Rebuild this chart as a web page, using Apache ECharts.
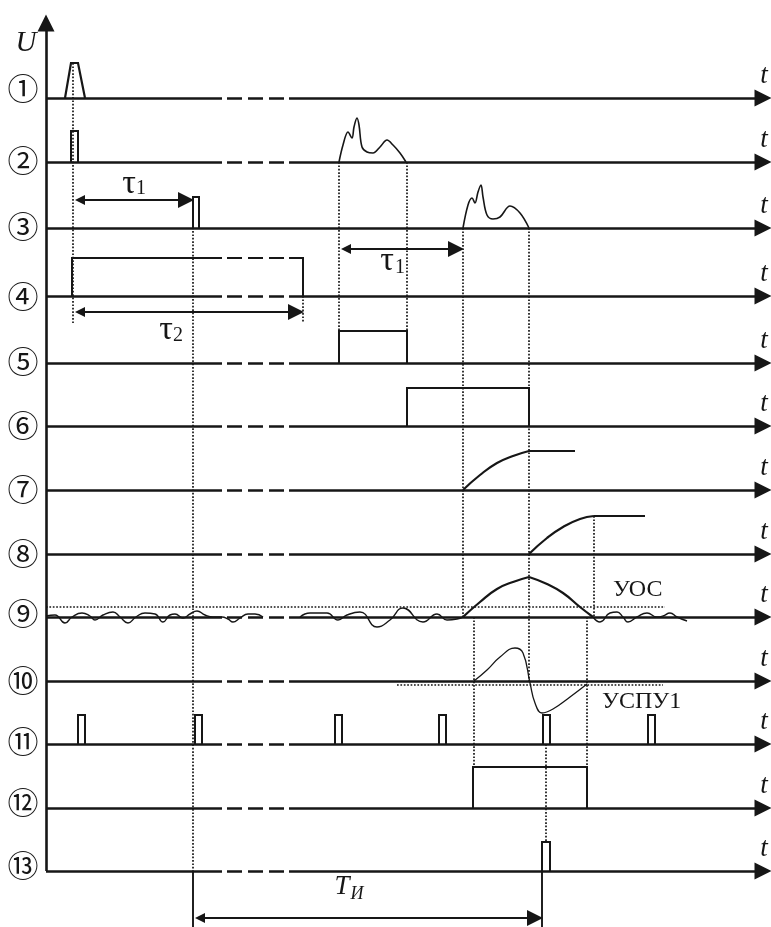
<!DOCTYPE html>
<html><head><meta charset="utf-8">
<script src="https://cdn.jsdelivr.net/npm/echarts@6/dist/echarts.min.js"></script>
<style>html,body{margin:0;padding:0;background:#fff}#c{width:771px;height:927px}</style>
</head><body><div id="c"></div>
<script>
// ================= DATA =================
// row captions (circled numbers)
const ROW_LABELS = ['①','②','③','④','⑤','⑥','⑦','⑧','⑨','⑩','⑪','⑫','⑬'];
// time axis: start, break (dashed part), end
const T_START = 46, T_END = 771, BREAK_FROM = 222, BREAK_TO = 289;
// rows whose time axis shows the dashed break
const DASH_ROWS = [0,1,3,4,5,6,7,8,9,10,11,12];

// signals: [time, level above row baseline]
const trig1  = [[65,0],[71,35],[78,35],[85,0]];
const probe2 = [[71,0],[71,31],[78,31],[78,0]];
const echo2  = [[339,0],[343,17],[348,30],[352,24],[354,35],[357,44],[359,37],[362,15],[367,10],[373,9],[380,15],[387,22],[393,17],[400,9],[406,0]];
const probe3 = [[193,0],[193,31],[199,31],[199,0]];
const echo3  = [[463,0],[468,23],[472,30],[475,25],[478,36],[481,43],[483,31],[487,13],[493,9],[500,11],[510,22],[520,15],[529,0]];
const gate4a = [[72,0],[72,38],[222,38]];
const gate4b = [[227,38],[284,38]];
const gate4c = [[289,38],[303,38],[303,0]];
const gate5  = [[339,0],[339,32],[407,32],[407,0]];
const gate6  = [[407,0],[407,38],[529,38],[529,0]];
const ramp7  = [[463,0],[480,15],[497,27],[513,34],[529,39]];
const hold7  = [[529,39],[575,39]];
const ramp8  = [[529,0],[547,16],[563,27],[580,35],[594,38]];
const hold8  = [[594,38],[645,38]];
const noise9a = [[46,1],[55,2],[65,-6],[72,0],[82,4],[90,1],[95,-3],[103,2],[113,5],[120,0],[128,-6],[136,0],[145,4],[155,3],[163,-5],[170,2],[175,3],[183,-1],[190,3],[197,6],[205,2],[213,0],[222,0],[228,-2],[233,-5],[240,-1],[248,3],[255,3],[263,0]];
const noise9b = [[300,0],[310,4],[327,4],[338,-3],[347,2],[360,5],[377,-10],[390,-3],[403,9],[423,-5],[437,3],[447,-3],[457,-2],[463,0]];
const arch9rise = [[463,0],[480,15],[497,28],[513,35],[529,40]];
const arch9fall = [[529,40],[547,33],[563,24],[580,10],[593,0]];
const noise9c = [[593,0],[600,-5],[610,4],[617,5],[623,0],[628,-5],[637,0],[647,4],[657,0],[663,1],[670,4],[677,0],[687,-4]];
const thr9   = [[46,10],[665,10]];
const resp10 = [[474,0],[487,11],[500,24],[515,33],[523,28],[530,-2],[535,-22],[542,-32],[553,-28],[570,-16],[587,-3]];
const thr10  = [[397,-4],[663,-4]];
const clock11 = [78,195,335,439,543,648];   // clock pulse start times
const CLOCK_W = 7, CLOCK_H = 29;
const gate12 = [[473,0],[473,41],[587,41],[587,0]];
const out13  = [[542,0],[542,29],[550,29],[550,0]];

// dotted projection lines: [time, fromRow, fromLevel, toRow, toLevel]
const VLINES = [[73,0,35,3,-27],[193,2,31,12,0],[303,3,0,3,-27],[339,1,0,4,32],[407,1,0,4,32],
                [463,2,0,8,0],[529,2,0,9,0],[594,7,38,8,0],[474,8,0,11,41],[587,8,0,11,41],[546,10,0,12,29]];
// solid extension lines down to the T_И dimension
const EXT = [[193,12,0,12,-56],[542,12,0,12,-56]];
// dimension arrows: [t1, t2, row, level]
const DIMS = [[73,193,2,28],[73,303,3,-16],[339,463,2,-21],[193,542,12,-47]];

// ================= LAYOUT =================
const ROW_Y = [98,162,228,296,363,426,490,554,617,681,744,808,871];
const LABEL_Y = [88,160,226,296,361,425,489,553,613,680,741,802,865];
const INK = '#161616';
const Y = (r, l) => ROW_Y[r] - l;

const series = [];
function poly(row, pts, width, smooth, extra) {
  series.push(Object.assign({
    type: 'line', data: pts.map(p => [p[0], Y(row, p[1])]),
    showSymbol: false, symbol: 'none', smooth: smooth || false, silent: true,
    lineStyle: { color: INK, width: width, cap: 'butt', join: 'miter' }, z: 5
  }, extra || {}));
}
function ls(width, type) { return { width: width, color: INK, opacity: 1, type: type || 'solid' }; }

// axes lines
const plain = [], arrows = [], dbl = [];
ROW_Y.forEach((y, r) => {
  if (DASH_ROWS.includes(r)) {
    plain.push({ coords: [[T_START, y], [BREAK_FROM, y]], lineStyle: ls(2.6) });
    plain.push({ coords: [[BREAK_FROM + 5, y], [BREAK_TO - 5, y]], lineStyle: ls(2.6, [15, 6]) });
    arrows.push({ coords: [[BREAK_TO, y], [T_END - 8, y]], lineStyle: ls(2.6) });
  } else {
    arrows.push({ coords: [[T_START, y], [T_END - 8, y]], lineStyle: ls(2.6) });
  }
});
// U axis
arrows.push({ coords: [[T_START, ROW_Y[12]], [T_START, 23]], lineStyle: ls(2.6) });

series.push({ type: 'lines', coordinateSystem: 'cartesian2d', polyline: false, silent: true, z: 3,
  symbol: ['none', 'none'], data: plain, lineStyle: ls(2.6) });
series.push({ type: 'lines', coordinateSystem: 'cartesian2d', polyline: false, silent: true, z: 3,
  symbol: ['none', 'triangle'], symbolSize: [13, 17], data: arrows, lineStyle: ls(2.6) });

// dimension arrows
DIMS.forEach(d => {
  const y = Y(d[2], d[3]);
  dbl.push({ coords: [[d[0] + 7, y], [d[1] - 7, y]], lineStyle: ls(1.9) });
});
series.push({ type: 'lines', coordinateSystem: 'cartesian2d', polyline: false, silent: true, z: 4,
  symbol: ['triangle', 'triangle'], symbolSize: [10, 16], data: dbl, lineStyle: ls(1.9) });

// dotted projection lines
series.push({ type: 'lines', coordinateSystem: 'cartesian2d', polyline: false, silent: true, z: 2,
  data: VLINES.map(v => ({ coords: [[v[0], Y(v[1], v[2])], [v[0], Y(v[3], v[4])]] })),
  lineStyle: ls(1.7, [1.7, 1.7]) });
series.push({ type: 'lines', coordinateSystem: 'cartesian2d', polyline: false, silent: true, z: 2,
  data: EXT.map(v => ({ coords: [[v[0], Y(v[1], v[2])], [v[0], Y(v[3], v[4])]] })),
  lineStyle: ls(1.9) });

// signals
poly(0, trig1, 2.2);
poly(1, probe2, 2); poly(1, echo2, 1.6, 0.35);
poly(2, probe3, 2); poly(2, echo3, 1.6, 0.35);
poly(3, gate4a, 2); poly(3, gate4c, 2);
poly(3, gate4b, 2, false, { lineStyle: { color: INK, width: 2, type: [15, 6] } });
poly(4, gate5, 2); poly(5, gate6, 2);
poly(6, ramp7, 2.2, 0.5); poly(6, hold7, 2.2);
poly(7, ramp8, 2.2, 0.5); poly(7, hold8, 2.2);
poly(8, noise9a, 1.4, 0.5); poly(8, noise9b, 1.4, 0.5); poly(8, noise9c, 1.4, 0.5);
poly(8, arch9rise, 2.2, 0.5); poly(8, arch9fall, 2.2, 0.5);
poly(8, thr9, 1.7, false, { lineStyle: { color: INK, width: 1.7, type: [1.7, 1.7] } });
poly(9, resp10, 1.3, 0.45);
poly(9, thr10, 1.7, false, { lineStyle: { color: INK, width: 1.7, type: [1.7, 1.7] } });
clock11.forEach(t => poly(10, [[t,0],[t,CLOCK_H],[t+CLOCK_W,CLOCK_H],[t+CLOCK_W,0]], 2));
poly(11, gate12, 2);
poly(12, out13, 2);

// ================= TEXT =================
const SERIF = '"Liberation Serif", "DejaVu Serif", serif';
const graphic = [];
function txt(x, y, s, font, align) {
  graphic.push({ type: 'text', x: x, y: y, silent: true,
    style: { text: s, font: font, fill: INK, textAlign: align || 'center', textVerticalAlign: 'middle' } });
}
ROW_LABELS.forEach((s, i) => txt(23, LABEL_Y[i], s, '31px "Noto Sans CJK JP"'));
ROW_Y.forEach(y => txt(764, y - 22, 't', 'italic 27px ' + SERIF));
txt(26, 43, 'U', 'italic 29px ' + SERIF);
// dimension captions
txt(129, 184, 'τ', '34px ' + SERIF); txt(141, 189, '1', '20px ' + SERIF);
txt(166, 330, 'τ', '34px ' + SERIF); txt(178, 336, '2', '20px ' + SERIF);
txt(387, 261, 'τ', '34px ' + SERIF); txt(400, 268, '1', '20px ' + SERIF);
txt(342, 887, 'T', 'italic 27px ' + SERIF); txt(357, 894, 'И', 'italic 18px ' + SERIF);
txt(613, 590, 'УОС', '24px ' + SERIF, 'left');
txt(602, 702, 'УСПУ1', '24px ' + SERIF, 'left');

const chart = echarts.init(document.getElementById('c'), null, { renderer: 'canvas' });
chart.setOption({
  animation: false,
  backgroundColor: '#fff',
  grid: { left: 0, right: 0, top: 0, bottom: 0 },
  xAxis: { type: 'value', min: 0, max: 771, show: false },
  yAxis: { type: 'value', min: 0, max: 927, inverse: true, show: false },
  series: series,
  graphic: graphic
});
</script></body></html>
